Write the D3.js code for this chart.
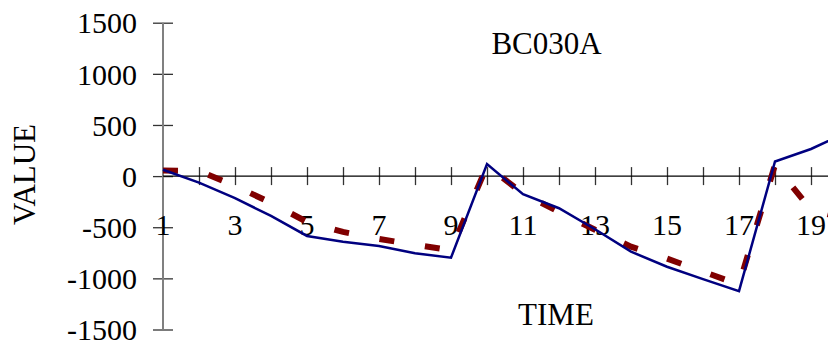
<!DOCTYPE html>
<html>
<head>
<meta charset="utf-8">
<script src="https://cdn.jsdelivr.net/npm/d3@7"></script>
<style>
  body { margin: 0; background: #fff; }
  svg { display: block; }
  text { font-family: "Liberation Serif", "Times New Roman", serif; fill: #000; }
</style>
</head>
<body>
<script>
// chart values
var time = [1, 2, 3, 4, 5, 6, 7, 8, 9, 10, 11, 12, 13, 14, 15, 16, 17, 18, 19, 20];
var observed = [62, -63, -216, -389, -585, -641, -683, -755, -798, 118, -177, -314, -520, -739, -886, -1007, -1125, 143, 265, 430];
var fitted = [55, 50, -95, -262, -448, -546, -614, -671, -725, 100, -170, -350, -525, -690, -807, -934, -1060, 110, -330, -420];
var yTicks = [-1500, -1000, -500, 0, 500, 1000, 1500];
var xLabels = [1, 3, 5, 7, 9, 11, 13, 15, 17, 19];
var title = "BC030A";

var width = 828, height = 342;

var svg = d3.select("body")
            .append("svg")
            .attr("width", width)
            .attr("height", height);

var x = d3.scaleLinear().domain([1, 20]).range([163, 847]);
var y = d3.scaleLinear().domain([-1500, 1500]).range([329.5, 22.7]);

// y axis: ticks cross the line, plain hyphen for negatives
var yAxis = svg.append("g")
    .attr("transform", "translate(173,0)")
    .call(d3.axisLeft(y).tickValues(yTicks).tickSize(20).tickPadding(16)
        .tickFormat(function(d) { return String(d); }));
yAxis.select(".domain").remove();
yAxis.selectAll(".tick line").attr("stroke", "#333").attr("stroke-width", 1.3);
yAxis.selectAll(".tick text")
    .attr("font-size", 30)
    .attr("dy", "0.34em");

svg.append("line")
    .attr("x1", x(1)).attr("x2", x(1))
    .attr("y1", y(1500)).attr("y2", y(-1500))
    .attr("stroke", "#808080")
    .attr("stroke-width", 2);

// x axis at zero
var xAxis = svg.append("g")
    .attr("transform", "translate(0," + (y(0) - 9) + ")")
    .call(d3.axisBottom(x).tickValues(time.slice(1, 19)).tickSize(18).tickFormat(""));
xAxis.select(".domain").remove();
xAxis.selectAll(".tick line").attr("stroke", "#333").attr("stroke-width", 1.3);

svg.append("line")
    .attr("x1", x(1)).attr("x2", width)
    .attr("y1", y(0)).attr("y2", y(0))
    .attr("stroke", "#000")
    .attr("stroke-width", 1.3);

svg.selectAll("text.xlab")
    .data(xLabels)
    .enter()
    .append("text")
    .attr("class", "xlab")
    .attr("x", function(d) { return x(d); })
    .attr("y", y(0) + 58.7)
    .attr("text-anchor", "middle")
    .attr("font-size", 30)
    .text(function(d) { return d; });

var line = d3.line()
    .x(function(d, i) { return x(time[i]); })
    .y(function(d) { return y(d); });

svg.append("path")
    .datum(fitted)
    .attr("d", line)
    .attr("fill", "none")
    .attr("stroke", "#800000")
    .attr("stroke-width", 6)
    .attr("stroke-dasharray", "15,31");

svg.append("path")
    .datum(observed)
    .attr("d", line)
    .attr("fill", "none")
    .attr("stroke", "#000080")
    .attr("stroke-width", 2.5);

// titles
svg.append("text")
    .attr("x", 546.5).attr("y", 54)
    .attr("text-anchor", "middle")
    .attr("font-size", 31)
    .text(title);

svg.append("text")
    .attr("x", 556).attr("y", 325)
    .attr("text-anchor", "middle")
    .attr("font-size", 31)
    .text("TIME");

svg.append("text")
    .attr("transform", "translate(35,174.5) rotate(-90)")
    .attr("text-anchor", "middle")
    .attr("font-size", 31)
    .text("VALUE");
</script>
</body>
</html>
